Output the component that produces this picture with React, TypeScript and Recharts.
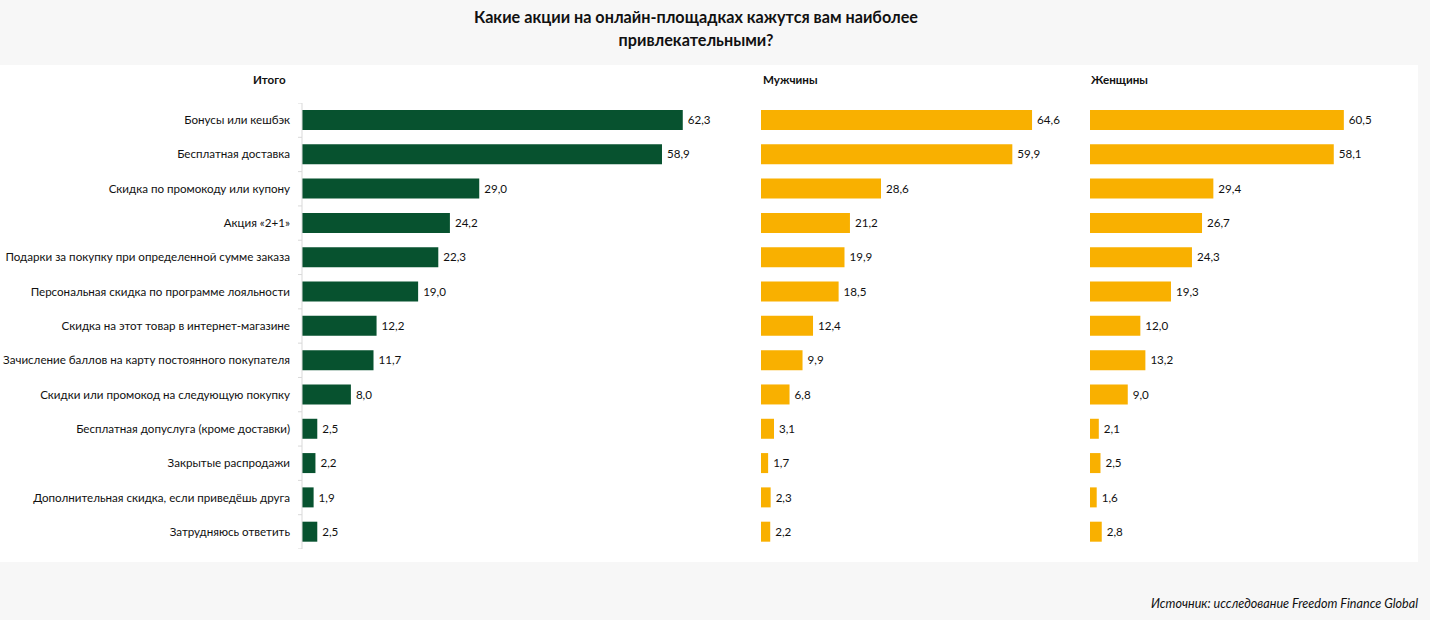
import React from "react";
import { BarChart, Bar, XAxis, YAxis, LabelList } from "recharts";

const categories = [
  "Бонусы или кешбэк",
  "Бесплатная доставка",
  "Скидка по промокоду или купону",
  "Акция «2+1»",
  "Подарки за покупку при определенной сумме заказа",
  "Персональная скидка по программе лояльности",
  "Скидка на этот товар в интернет-магазине",
  "Зачисление баллов на карту постоянного покупателя",
  "Скидки или промокод на следующую покупку",
  "Бесплатная допуслуга (кроме доставки)",
  "Закрытые распродажи",
  "Дополнительная скидка, если приведёшь друга",
  "Затрудняюсь ответить",
];
const totalValues = [62.3, 58.9, 29.0, 24.2, 22.3, 19.0, 12.2, 11.7, 8.0, 2.5, 2.2, 1.9, 2.5];
const menValues = [64.6, 59.9, 28.6, 21.2, 19.9, 18.5, 12.4, 9.9, 6.8, 3.1, 1.7, 2.3, 2.2];
const womenValues = [60.5, 58.1, 29.4, 26.7, 24.3, 19.3, 12.0, 13.2, 9.0, 2.1, 2.5, 1.6, 2.8];

const title1 = "Какие акции на онлайн-площадках кажутся вам наиболее";
const title2 = "привлекательными?";
const panelTitles = ["Итого", "Мужчины", "Женщины"];
const source = "Источник: исследование Freedom Finance Global";

const data = categories.map((c, i) => ({
  name: c,
  total: totalValues[i],
  men: menValues[i],
  women: womenValues[i],
}));

const FONT = "Lato, 'Open Sans', sans-serif";
const GREEN = "#07522f";
const YELLOW = "#f9b000";
const CHART_TOP = 103;
const CHART_H = 446;
const DOMAIN_MAX = 71.5;
const BAND = CHART_H / categories.length;

const fmt = (v: any) => Number(v).toFixed(1).replace(".", ",");

const CategoryTick = (props: any) => {
  const { x, y, payload } = props;
  return (
    <g>
      <line x1={x + 12} x2={x + 8} y1={y - BAND / 2} y2={y - BAND / 2} stroke="#d9d9d9" />
      {payload.index === categories.length - 1 && (
        <line x1={x + 12} x2={x + 8} y1={y + BAND / 2} y2={y + BAND / 2} stroke="#d9d9d9" />
      )}
      <text x={x} y={y} dy={4} textAnchor="end" fontSize={11.6} fill="#111" fontFamily={FONT}>
        {payload.value}
      </text>
    </g>
  );
};

const labelStyle = { fontSize: 11.6, fill: "#111", fontFamily: FONT };

export default function App() {
  return (
    <div
      style={{
        position: "absolute",
        left: 0,
        top: 0,
        width: 1430,
        height: 620,
        background: "#f7f7f7",
        fontFamily: FONT,
        overflow: "hidden",
      }}
    >
      <div
        style={{
          position: "absolute",
          left: 396,
          width: 600,
          top: 5,
          textAlign: "center",
          fontWeight: 700,
          fontSize: 16.2,
          lineHeight: "23px",
          color: "#111",
          whiteSpace: "nowrap",
        }}
      >
        <div>{title1}</div>
        <div>{title2}</div>
      </div>

      <div
        style={{
          position: "absolute",
          left: 0,
          top: 65,
          width: 1418,
          height: 497,
          background: "#ffffff",
        }}
      />

      <div style={{ position: "absolute", left: 253, top: 73, fontWeight: 700, fontSize: 11.6, color: "#111" }}>
        {panelTitles[0]}
      </div>
      <div style={{ position: "absolute", left: 763, top: 73, fontWeight: 700, fontSize: 11.6, color: "#111" }}>
        {panelTitles[1]}
      </div>
      <div style={{ position: "absolute", left: 1091, top: 73, fontWeight: 700, fontSize: 11.6, color: "#111" }}>
        {panelTitles[2]}
      </div>

      <div style={{ position: "absolute", left: 0, top: CHART_TOP }}>
        <BarChart
          width={739}
          height={CHART_H}
          data={data}
          layout="vertical"
          margin={{ top: 0, right: 0, bottom: 0, left: 0 }}
        >
          <XAxis type="number" domain={[0, DOMAIN_MAX]} hide />
          <YAxis
            type="category"
            dataKey="name"
            width={302}
            axisLine={{ stroke: "#d9d9d9" }}
            tickLine={false}
            tick={<CategoryTick />}
            tickMargin={4}
            tickSize={8}
            interval={0}
          />
          <Bar dataKey="total" fill={GREEN} barSize={20} isAnimationActive={false}>
            <LabelList dataKey="total" position="right" offset={5} formatter={fmt} style={labelStyle} />
          </Bar>
        </BarChart>
      </div>

      <div style={{ position: "absolute", left: 761, top: CHART_TOP }}>
        <BarChart
          width={300}
          height={CHART_H}
          data={data}
          layout="vertical"
          margin={{ top: 0, right: 0, bottom: 0, left: 0 }}
        >
          <XAxis type="number" domain={[0, DOMAIN_MAX]} hide />
          <YAxis type="category" dataKey="name" hide />
          <Bar dataKey="men" fill={YELLOW} barSize={20} isAnimationActive={false}>
            <LabelList dataKey="men" position="right" offset={5} formatter={fmt} style={labelStyle} />
          </Bar>
        </BarChart>
      </div>

      <div style={{ position: "absolute", left: 1090, top: CHART_TOP }}>
        <BarChart
          width={300}
          height={CHART_H}
          data={data}
          layout="vertical"
          margin={{ top: 0, right: 0, bottom: 0, left: 0 }}
        >
          <XAxis type="number" domain={[0, DOMAIN_MAX]} hide />
          <YAxis type="category" dataKey="name" hide />
          <Bar dataKey="women" fill={YELLOW} barSize={20} isAnimationActive={false}>
            <LabelList dataKey="women" position="right" offset={5} formatter={fmt} style={labelStyle} />
          </Bar>
        </BarChart>
      </div>

      <div
        style={{
          position: "absolute",
          right: 12,
          top: 596,
          fontStyle: "italic",
          fontSize: 12.6,
          color: "#111",
        }}
      >
        {source}
      </div>
    </div>
  );
}
